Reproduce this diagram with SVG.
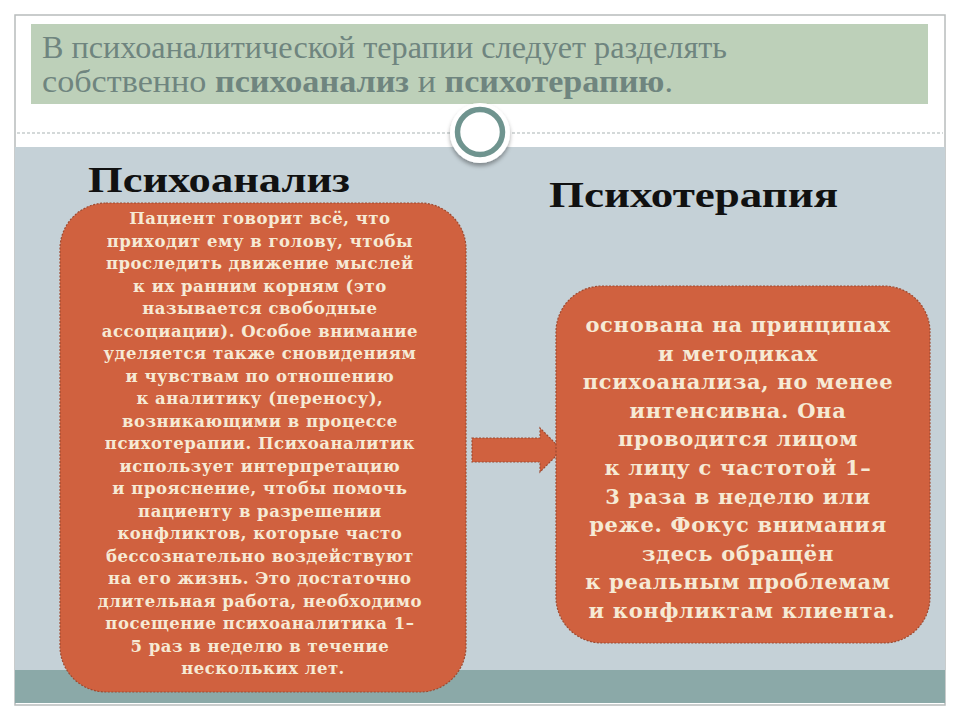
<svg xmlns="http://www.w3.org/2000/svg" width="960" height="720" viewBox="0 0 960 720">
<defs>
<style>
.hdr{font-family:"Liberation Serif",serif;font-size:31px;fill:#6f857f}
.title{font-family:"Liberation Serif",serif;font-weight:bold;font-size:36px;fill:#111}
.box{fill:#d0613f;stroke:#9e4a30;stroke-width:1.2;stroke-dasharray:2 1.5}
.lt{font-family:"DejaVu Serif",serif;font-weight:bold;font-size:16.5px;letter-spacing:0.5px;fill:#f6ead5;text-anchor:middle}
.rt{font-family:"DejaVu Serif",serif;font-weight:bold;font-size:21px;letter-spacing:0.7px;fill:#f6ead5;text-anchor:middle}
</style>
<filter id="sh" x="-50%" y="-50%" width="200%" height="200%"><feDropShadow dx="0" dy="3" stdDeviation="2" flood-color="#000" flood-opacity="0.35"/></filter>
</defs>
<rect x="0" y="0" width="960" height="720" fill="#ffffff"/>
<rect x="15" y="15" width="930" height="690" fill="#ffffff" stroke="#b8bcbc" stroke-width="1.5"/>
<rect x="15" y="147" width="930" height="523" fill="#c5d1d7"/>
<rect x="15" y="670" width="930" height="33" fill="#8ba9a8"/>
<rect x="31" y="24" width="897" height="80" fill="#bdd0b9"/>
<line x1="17" y1="133" x2="943" y2="133" stroke="#a9b3b3" stroke-width="1.2" stroke-dasharray="3 2"/>
<g id="header">
<text class="hdr" x="42" y="58" textLength="685" lengthAdjust="spacingAndGlyphs">В психоаналитической терапии следует разделять</text>
<text class="hdr" x="42" y="92" textLength="631" lengthAdjust="spacingAndGlyphs">собственно <tspan font-weight="bold">психоанализ</tspan> и <tspan font-weight="bold">психотерапию</tspan>.</text>
</g>
<g id="circle">
<circle cx="480" cy="133" r="30" fill="#ffffff" filter="url(#sh)"/>
<circle cx="480" cy="132" r="22.5" fill="#ffffff" stroke="#6f948f" stroke-width="5.5"/>
</g>
<g id="title-left"><text class="title" x="88" y="192" textLength="262" lengthAdjust="spacingAndGlyphs">Психоанализ</text></g>
<g id="title-right"><text class="title" x="549" y="207" textLength="289" lengthAdjust="spacingAndGlyphs">Психотерапия</text></g>
<g id="left-box">
<rect class="box" x="60" y="203" width="406" height="489" rx="46"/>
<text class="lt" x="263">
<tspan x="263" y="224">Пациент говорит всё, что</tspan>
<tspan x="263" y="246.5">приходит ему в голову, чтобы</tspan>
<tspan x="263" y="269">проследить движение мыслей</tspan>
<tspan x="263" y="291.5">к их ранним корням (это</tspan>
<tspan x="263" y="314">называется свободные</tspan>
<tspan x="263" y="336.5">ассоциации). Особое внимание</tspan>
<tspan x="263" y="359">уделяется также сновидениям</tspan>
<tspan x="263" y="381.5">и чувствам по отношению</tspan>
<tspan x="263" y="404">к аналитику (переносу),</tspan>
<tspan x="263" y="426.5">возникающими в процессе</tspan>
<tspan x="263" y="449">психотерапии. Психоаналитик</tspan>
<tspan x="263" y="471.5">использует интерпретацию</tspan>
<tspan x="263" y="494">и прояснение, чтобы помочь</tspan>
<tspan x="263" y="516.5">пациенту в разрешении</tspan>
<tspan x="263" y="539">конфликтов, которые часто</tspan>
<tspan x="263" y="561.5">бессознательно воздействуют</tspan>
<tspan x="263" y="584">на его жизнь. Это достаточно</tspan>
<tspan x="263" y="606.5">длительная работа, необходимо</tspan>
<tspan x="263" y="629">посещение психоаналитика 1–</tspan>
<tspan x="263" y="651.5">5 раз в неделю в течение</tspan>
<tspan x="263" y="674">нескольких лет.</tspan>
</text>
</g>
<g id="connectors">
<polygon class="box" points="472,438 540,438 540,428 562,450 540,472 540,462 472,462"/>
</g>
<g id="right-box">
<rect class="box" x="556" y="286" width="374" height="357" rx="46"/>
<text class="rt" x="742">
<tspan x="742" y="332">основана на принципах</tspan>
<tspan x="742" y="360.6">и методиках</tspan>
<tspan x="742" y="389.2">психоанализа, но менее</tspan>
<tspan x="742" y="417.8">интенсивна. Она</tspan>
<tspan x="742" y="446.4">проводится лицом</tspan>
<tspan x="742" y="475">к лицу с частотой 1–</tspan>
<tspan x="742" y="503.6">3 раза в неделю или</tspan>
<tspan x="742" y="532.2">реже. Фокус внимания</tspan>
<tspan x="742" y="560.8">здесь обращён</tspan>
<tspan x="742" y="589.4">к реальным проблемам</tspan>
<tspan x="742" y="618">и конфликтам клиента.</tspan>
</text>
</g>
</svg>
